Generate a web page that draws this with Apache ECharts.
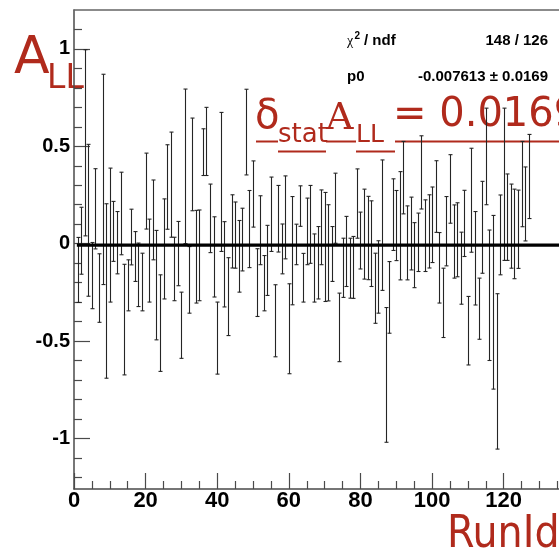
<!DOCTYPE html>
<html>
<head>
<meta charset="utf-8">
<script src="https://cdn.jsdelivr.net/npm/echarts@6/dist/echarts.min.js"></script>
<style>
html,body{margin:0;padding:0;background:#fff;}
#main{width:559px;height:557px;}
</style>
</head>
<body>
<div id="main"></div>
<script>
var runIds=[1,2,3,4,5,6,7,8,9,10,11,12,13,14,15,16,17,18,19,20,
    21,22,23,24,25,26,27,28,29,30,31,32,33,34,35,36,37,38,39,40,
    41,42,43,44,45,46,47,48,49,50,51,52,53,54,55,56,57,58,59,60,
    61,62,63,64,65,66,67,68,69,70,71,72,73,74,75,76,77,78,79,80,
    81,82,83,84,85,86,87,88,89,90,91,92,93,94,95,96,97,98,99,100,
    101,102,103,104,105,106,107,108,109,110,111,112,113,114,115,116,117,118,119,120,
    121,122,123,124,125,126,127];
var asym=[-0.135,0.015,0.518,0.12,-0.164,0.179,-0.228,0.33,-0.243,0.044,
    0.063,0.005,0.155,-0.39,-0.214,0.034,-0.066,-0.16,-0.197,0.27,
    -0.087,0.122,-0.213,-0.408,-0.027,0.291,0.303,-0.13,-0.051,-0.419,
    0.397,-0.186,0.407,-0.067,-0.06,0.47,0.525,0.13,-0.068,-0.485,
    0.317,-0.106,-0.272,0.063,0.044,-0.065,0.021,0.573,0.075,0.255,
    -0.2,0.069,-0.203,-0.086,0.151,-0.396,0.128,-0.027,0.135,-0.437,
    -0.036,-0.004,0.193,-0.175,0.063,0.099,-0.125,-0.098,0.084,-0.017,
    -0.047,-0.053,0.182,-0.43,-0.124,-0.04,-0.126,-0.122,0.206,0.016,
    0.049,0.029,0.0,-0.229,-0.171,0.095,-0.674,-0.276,0.149,0.093,
    0.092,0.339,0.004,0.052,-0.059,0.007,0.366,0.041,0.063,0.097,
    0.242,-0.124,-0.304,0.064,0.281,0.011,0.02,-0.126,0.104,-0.447,
    0.223,-0.075,-0.334,0.084,0.448,-0.265,-0.301,-0.656,0.045,0.305,
    0.136,0.09,0.05,0.074,0.306,0.204,0.345];
var asymErr=[0.167,0.172,0.478,0.39,0.17,0.206,0.176,0.54,0.448,0.344,
    0.154,0.16,0.212,0.284,0.131,0.143,0.128,0.163,0.148,0.195,
    0.213,0.205,0.281,0.248,0.257,0.217,0.27,0.163,0.165,0.17,
    0.397,0.171,0.238,0.238,0.233,0.12,0.175,0.176,0.206,0.185,
    0.357,0.219,0.2,0.188,0.17,0.184,0.161,0.22,0.198,0.17,
    0.174,0.177,0.142,0.18,0.191,0.185,0.171,0.128,0.213,0.231,
    0.278,0.104,0.104,0.125,0.171,0.2,0.175,0.186,0.192,0.28,
    0.247,0.141,0.18,0.176,0.152,0.18,0.154,0.159,0.178,0.146,
    0.231,0.214,0.22,0.18,0.186,0.335,0.346,0.184,0.184,0.18,
    0.278,0.186,0.19,0.187,0.167,0.15,0.188,0.184,0.188,0.194,
    0.184,0.181,0.178,0.178,0.176,0.188,0.19,0.185,0.17,0.176,
    0.267,0.24,0.157,0.236,0.248,0.335,0.446,0.399,0.205,0.391,
    0.222,0.216,0.23,0.201,0.219,0.19,0.216];
var xMajor=[0,20,40,60,80,100,120];
var xMinor=[5,10,15,25,30,35,45,50,55,65,70,75,85,90,95,105,110,115,125,130,135];
var yMajor=[-1,-0.5,0,0.5,1];
var yMinor=[-1.2,-1.1,-0.9,-0.8,-0.7,-0.6,-0.4,-0.3,-0.2,-0.1,0.1,0.2,0.3,0.4,0.6,0.7,0.8,0.9,1.1];
var fitP0=-0.007613;
var fitP0Err=0.0169;
var fitRange=[0.8,136];
var chi2=148;
var ndf=126;

var red='#b02a1c';
var axisColor='#4a4a4a';
var xMin=0,xMax=135.44,yMin=-1.26,yMax=1.2;

var points=runIds.map(function (r,i) {
    return [r,asym[i],asymErr[i]];
});

function errorBar(params,api) {
    var x=api.value(0),y=api.value(1),e=api.value(2);
    var top=api.coord([x,y+e]);
    var bot=api.coord([x,y-e]);
    var px=Math.round(top[0])+0.5;
    var cap=2;
    var st={stroke:'#252525',lineWidth:1.1};
    return {
        type:'group',
        children:[
            {type:'line',shape:{x1:px,y1:top[1],x2:px,y2:bot[1]},style:st},
            {type:'line',shape:{x1:px-cap,y1:top[1],x2:px+cap,y2:top[1]},style:st},
            {type:'line',shape:{x1:px-cap,y1:bot[1],x2:px+cap,y2:bot[1]},style:st}
        ]
    };
}

function valueAxis(pos,min,max,extra) {
    var a={
        type:'value',
        position:pos,
        min:min,
        max:max,
        splitLine:{show:false},
        axisLine:{show:false,onZero:false},
        axisTick:{show:false},
        axisLabel:{show:false}
    };
    for(var k in extra){a[k]=extra[k];}
    return a;
}

var myChart=echarts.init(document.getElementById('main'),null,{renderer:'canvas'});
var option={
    animation:false,
    backgroundColor:'#fff',
    grid:{left:74,top:10,right:0,bottom:68,outerBoundsMode:'none',containLabel:false},
    xAxis:[
        valueAxis('bottom',xMin,xMax,{
            axisLine:{show:true,onZero:false,lineStyle:{color:axisColor,width:1.5}},
            axisTick:{show:true,inside:true,length:16,customValues:xMajor,lineStyle:{color:axisColor,width:1.2}},
            axisLabel:{show:true,customValues:xMajor,margin:1,fontSize:22,fontFamily:'Liberation Sans',fontWeight:'bold',color:'#000'}
        }),
        valueAxis('bottom',xMin,xMax,{
            axisTick:{show:true,inside:true,length:8,customValues:xMinor,lineStyle:{color:axisColor,width:1.2}}
        }),
        valueAxis('top',xMin,xMax,{
            axisLine:{show:true,onZero:false,lineStyle:{color:'#666',width:1.5}}
        })
    ],
    yAxis:[
        valueAxis('left',yMin,yMax,{
            axisLine:{show:true,onZero:false,lineStyle:{color:axisColor,width:1.5}},
            axisTick:{show:true,inside:true,length:16,customValues:yMajor,lineStyle:{color:axisColor,width:1.2}},
            axisLabel:{show:true,customValues:yMajor,margin:4,fontSize:20,fontFamily:'Liberation Sans',fontWeight:'bold',color:'#000'}
        }),
        valueAxis('left',yMin,yMax,{
            axisTick:{show:true,inside:true,length:8,customValues:yMinor,lineStyle:{color:axisColor,width:1.2}}
        })
    ],
    series:[
        {
            name:'A_LL',
            type:'custom',
            xAxisIndex:0,
            yAxisIndex:0,
            clip:true,
            renderItem:errorBar,
            data:points,
            z:3
        },
        {
            name:'fit p0',
            type:'line',
            xAxisIndex:0,
            yAxisIndex:0,
            clip:true,
            symbol:'none',
            silent:true,
            lineStyle:{color:'#000',width:3.2},
            data:[[fitRange[0],fitP0],[fitRange[1],fitP0]],
            z:4
        }
    ],
    graphic:[
        // y title
        {type:'text',x:14,y:59,style:{text:'A',font:'52px "DejaVu Sans"',fill:red,verticalAlign:'middle'}},
        {type:'text',x:47,y:79,style:{text:'LL',font:'33px "DejaVu Sans"',fill:red,verticalAlign:'middle'}},
        // x title
        {type:'text',x:447,y:536,style:{text:'RunId',font:'44px "DejaVu Sans Condensed", "DejaVu Sans"',fill:red,verticalAlign:'middle'}},
        // fit box
        {type:'text',x:347,y:41,style:{text:'\u03c7',font:'14px "Liberation Serif"',fill:'#000',verticalAlign:'middle'}},
        {type:'text',x:354.5,y:36,style:{text:'2',font:'bold 10px "Liberation Sans"',fill:'#000',verticalAlign:'middle'}},
        {type:'text',x:364,y:41,style:{text:'/ ndf',font:'bold 15px "Liberation Sans"',fill:'#000',verticalAlign:'middle'}},
        {type:'text',x:548,y:41,style:{text:chi2+' / '+ndf,font:'bold 15px "Liberation Sans"',fill:'#000',align:'right',verticalAlign:'middle'}},
        {type:'text',x:347,y:77,style:{text:'p0',font:'bold 15px "Liberation Sans"',fill:'#000',verticalAlign:'middle'}},
        {type:'text',x:548,y:77,style:{text:fitP0+' \u00b1 '+fitP0Err,font:'bold 15px "Liberation Sans"',fill:'#000',align:'right',verticalAlign:'middle'}},
        // stat error annotation
        {type:'text',x:255,y:118,style:{text:'\u03b4',font:'40px "DejaVu Sans"',fill:red,verticalAlign:'middle'}},
        {type:'text',x:278,y:135,style:{text:'stat',font:'26px "DejaVu Sans"',fill:red,verticalAlign:'middle'}},
        {type:'text',x:326,y:119,style:{text:'A',font:'38px "DejaVu Serif"',fill:red,verticalAlign:'middle'}},
        {type:'text',x:356,y:135,style:{text:'LL',font:'25px "DejaVu Sans"',fill:red,verticalAlign:'middle'}},
        {type:'text',x:393,y:116,style:{text:'= '+fitP0Err,font:'40px "DejaVu Sans"',fill:red,verticalAlign:'middle'}},
        {type:'line',shape:{x1:256,y1:141.5,x2:278,y2:141.5},style:{stroke:red,lineWidth:2}},
        {type:'line',shape:{x1:278,y1:151.5,x2:326,y2:151.5},style:{stroke:red,lineWidth:2}},
        {type:'line',shape:{x1:326,y1:141.5,x2:356,y2:141.5},style:{stroke:red,lineWidth:2}},
        {type:'line',shape:{x1:356,y1:151.5,x2:395,y2:151.5},style:{stroke:red,lineWidth:2}},
        {type:'line',shape:{x1:395,y1:141.5,x2:559,y2:141.5},style:{stroke:red,lineWidth:2}}
    ]
};
myChart.setOption(option,true);
</script>
</body>
</html>
